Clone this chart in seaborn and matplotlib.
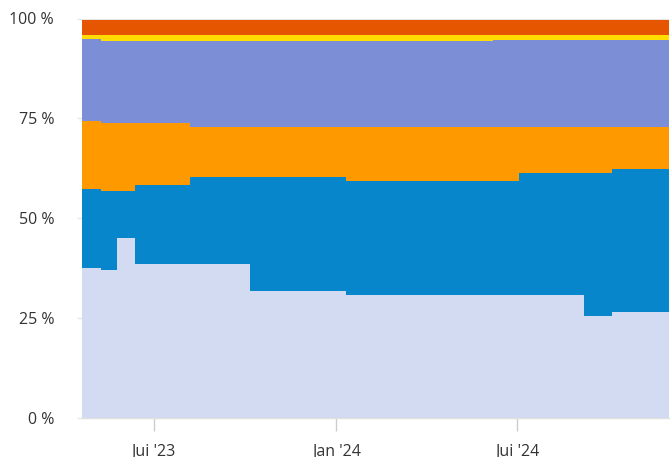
import matplotlib
matplotlib.use("Agg")
import matplotlib.pyplot as plt
import matplotlib.dates as mdates
from matplotlib.ticker import FuncFormatter
import seaborn as sns
import pandas as pd

# dates where the shares change, the last one closes the period
dates = ["2023-04-20", "2023-05-09", "2023-05-25", "2023-06-12", "2023-08-07",
         "2023-10-06", "2024-01-11", "2024-06-06", "2024-07-03", "2024-09-06",
         "2024-10-04", "2024-11-30"]

# shares in %, one value per period, from bottom to top of the stack
serie_1 = [37.5, 37.0, 45.0, 38.5, 38.5, 31.6, 30.6, 30.6, 30.6, 25.4, 26.4]
serie_2 = [19.8, 19.8, 11.8, 19.8, 21.8, 28.7, 28.7, 28.7, 30.7, 35.9, 35.9]
serie_3 = [16.9, 16.9, 16.9, 15.4, 12.4, 12.4, 13.4, 13.4, 11.4, 11.4, 10.4]
serie_4 = [20.6, 20.7, 20.7, 20.7, 21.7, 21.7, 21.7, 22.0, 22.0, 22.0, 22.0]
serie_5 = [1.0, 1.4, 1.4, 1.4, 1.4, 1.4, 1.4, 1.1, 1.1, 1.1, 1.1]
serie_6 = [3.8, 3.8, 3.8, 3.8, 3.8, 3.8, 3.8, 3.8, 3.8, 3.8, 3.8]

series = ["Série 1", "Série 2", "Série 3", "Série 4", "Série 5", "Série 6"]
colors = ["#d3dbf2", "#0786cc", "#ff9900", "#7b8ed6", "#ffdd00", "#e65500"]

month_names = {1: "Jan", 7: "Jui"}

sns.set_theme(style="white")
plt.rcParams["font.family"] = ["Open Sans", "DejaVu Sans"]

edges = [float(e) for e in mdates.date2num(pd.to_datetime(dates))]
starts = edges[:-1]

rows = []
for name, values in zip(series, [serie_1, serie_2, serie_3, serie_4, serie_5, serie_6]):
    for x, v in zip(starts, values):
        rows.append({"date": x, "part": v, "serie": name})
df = pd.DataFrame(rows)

fig = plt.figure(figsize=(6.7, 4.57), dpi=100)
ax = fig.add_axes([82 / 670, 39.5 / 457, 586.5 / 670, 399 / 457])

# seaborn stacks the last hue level at the bottom
sns.histplot(data=df, x="date", weights="part", hue="serie",
             hue_order=series[::-1], bins=edges, multiple="stack",
             element="step", palette=dict(zip(series, colors)),
             alpha=1, linewidth=0, legend=False, ax=ax)

ax.set_xlim(edges[0], edges[-1])
ax.set_ylim(0, 100)
ax.set_yticks([0, 25, 50, 75, 100])
ax.set_yticklabels(["0 %", "25 %", "50 %", "75 %", "100 %"])
ax.xaxis.set_major_locator(mdates.MonthLocator(bymonth=[1, 7]))


def fmt_date(x, pos):
    d = mdates.num2date(x)
    return f"{month_names[d.month]} '{d.strftime('%y')}"


ax.xaxis.set_major_formatter(FuncFormatter(fmt_date))

ax.set_xlabel("")
ax.set_ylabel("")
ax.set_axisbelow(True)
ax.yaxis.grid(True, color="#e6e6e6", linewidth=1)
ax.xaxis.grid(False)
for side in ["left", "top", "right"]:
    ax.spines[side].set_visible(False)
ax.spines["bottom"].set_color("#e0e0e0")
ax.spines["bottom"].set_linewidth(1)

ax.tick_params(axis="x", bottom=True, length=9.4, width=1, color="#cccccc",
               pad=9.5, labelsize=11.5, labelcolor="#333333")
ax.tick_params(axis="y", left=True, length=3.6, width=1, color="#e6e6e6",
               pad=16.5, labelsize=11.5, labelcolor="#333333")

fig.savefig("out.png", dpi=100)
plt.close(fig)
